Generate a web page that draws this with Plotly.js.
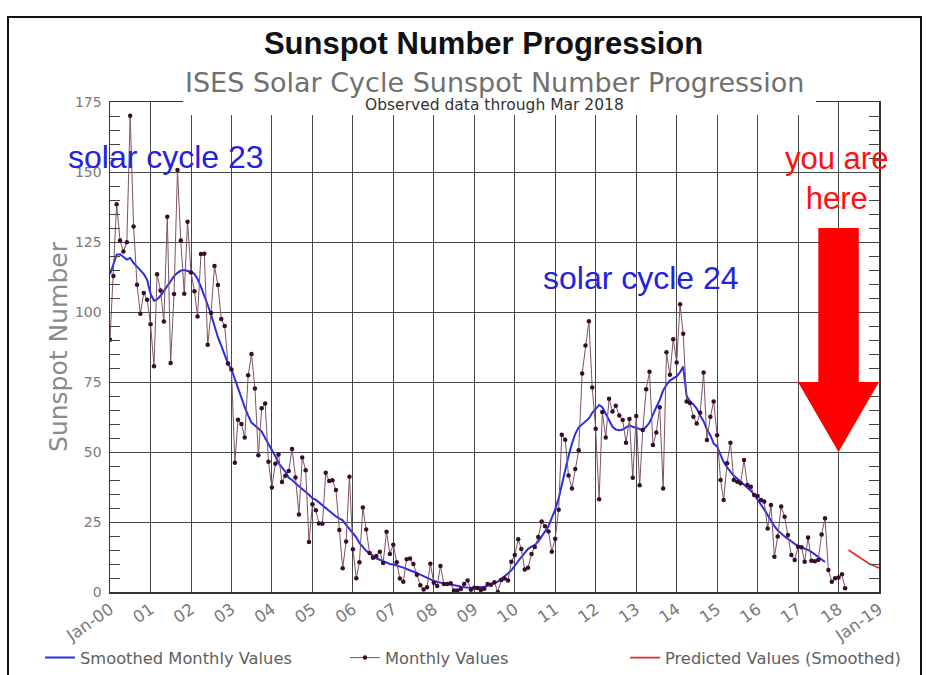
<!DOCTYPE html>
<html>
<head>
<meta charset="utf-8">
<script src="https://cdn.plot.ly/plotly-3.0.1.min.js"></script>
<style>html,body{margin:0;padding:0;background:#fff;}#chart{width:927px;height:675px;}</style>
</head>
<body>
<div id="chart"></div>
<script>
// Monthly sunspot numbers, Jan 2000 .. Mar 2018
const monthlyStart = [2000, 1];
const monthlyValues = [
  90.1, 112.9, 138.5, 125.5, 121.6, 124.9, 170.1, 130.5, 109.7, 99.4, 106.8, 104.4,
  95.6, 80.6, 113.5, 107.7, 96.6, 134.0, 81.8, 106.4, 150.7, 125.5, 106.5, 132.2,
  114.1, 107.4, 98.4, 120.7, 120.8, 88.3, 99.6, 116.4, 109.6, 97.5, 95.0, 81.6,
  79.5, 46.2, 61.5, 60.0, 55.2, 77.4, 85.0, 72.7, 48.8, 65.6, 67.3, 46.5,
  37.3, 45.8, 49.1, 39.3, 41.5, 43.2, 51.1, 40.9, 27.7, 48.0, 43.5, 17.9,
  31.3, 29.2, 24.5, 24.4, 42.6, 39.6, 39.9, 36.4, 22.1, 8.5, 18.0, 41.2,
  15.3, 4.9, 10.6, 30.2, 22.3, 13.9, 12.2, 12.9, 14.4, 10.4, 21.5, 13.6,
  16.9, 10.6, 4.8, 3.7, 11.7, 12.0, 10.0, 6.2, 2.4, 0.9, 1.7, 10.1,
  3.3, 2.1, 9.3, 2.9, 2.9, 3.1, 0.5, 0.5, 1.1, 2.9, 4.1, 0.8,
  1.5, 1.4, 0.7, 1.2, 2.9, 2.6, 3.5, 0.0, 4.3, 4.8, 4.1, 10.8,
  13.2, 18.8, 15.4, 8.0, 8.7, 13.6, 16.1, 19.6, 25.2, 23.5, 21.6, 14.4,
  19.0, 29.4, 56.2, 54.4, 41.6, 37.0, 43.9, 50.6, 78.0, 88.0, 96.7, 73.0,
  58.3, 33.1, 64.3, 55.2, 69.0, 64.5, 66.5, 63.0, 61.4, 53.3, 61.8, 40.8,
  62.9, 38.1, 57.9, 72.4, 78.7, 52.5, 57.0, 66.0, 37.0, 85.6, 77.6, 90.3,
  82.0, 102.8, 92.2, 68.0, 67.5, 62.6, 60.2, 64.0, 78.4, 54.3, 62.6, 68.0,
  56.0, 40.0, 32.9, 46.0, 53.3, 40.0, 39.4, 38.8, 47.1, 38.2, 37.6, 34.6,
  34.3, 32.9, 32.3, 22.7, 31.1, 12.6, 19.8, 30.5, 26.9, 20.4, 13.2, 11.4,
  16.2, 16.0, 10.8, 19.5, 11.2, 11.0, 11.4, 20.5, 26.3, 7.9, 3.7, 4.9,
  5.2, 6.3, 1.3
];

// Smoothed monthly values, Jan 2000 .. Sep 2017
const smoothedStart = [2000, 1];
const smoothedValues = [
  113.5, 117.5, 120.5, 120.6, 119.8, 118.7, 119.3, 117.5, 116.2, 114.8, 113.5, 111.5,
  106.5, 104.0, 104.5, 105.8, 107.5, 109.5, 111.3, 112.8, 114.0, 114.8, 115.0, 114.6,
  114.3, 113.6, 111.8, 109.0, 106.0, 102.5, 99.0, 94.5, 91.0, 88.0, 84.5, 81.5,
  79.5, 76.0, 72.5, 69.0, 66.0, 63.0, 60.5, 59.5, 58.5, 57.3, 55.0, 53.0,
  51.0, 48.5, 46.0, 44.5, 43.0, 40.8, 40.0, 38.8, 37.8, 36.8, 35.8, 34.7,
  33.5, 32.9, 32.0, 31.0, 29.8, 28.8, 27.9, 27.0, 26.3, 25.6, 24.0, 22.5,
  21.0, 19.5, 17.5, 16.0, 14.7, 13.8, 13.0, 12.0, 11.5, 11.0, 10.5, 10.0,
  9.8, 9.5, 9.1, 8.7, 8.2, 7.8, 7.3, 6.8, 6.2, 5.6, 5.0, 4.5,
  4.0, 3.6, 3.3, 3.1, 2.9, 2.7, 2.4, 2.1, 1.9, 1.7, 1.6, 1.5,
  1.5, 1.6, 1.7, 1.9, 2.2, 2.6, 3.1, 3.7, 4.6, 5.6, 6.6, 7.7,
  9.5, 11.0, 12.5, 14.0, 15.4, 16.2, 16.8, 18.0, 19.8, 21.5, 23.5, 26.5,
  29.5, 33.5, 38.5, 43.5, 48.5, 53.0, 56.5, 58.8, 59.8, 60.8, 62.0, 64.0,
  65.5, 66.8, 66.0, 63.5, 61.0, 59.0, 58.0, 57.8, 58.0, 58.7, 59.5, 59.0,
  58.5, 58.2, 57.9, 59.0, 60.5, 63.5, 66.0, 68.5, 72.0, 74.0, 75.5, 76.3,
  77.0, 78.5, 80.5, 70.0, 68.0, 67.0, 65.5, 63.0, 61.0, 58.0, 56.0, 53.0,
  52.0, 49.0, 46.5, 44.5, 43.0, 41.5, 40.5, 39.5, 38.5, 37.5, 36.2, 34.8,
  33.0, 31.5, 29.5, 27.5, 25.5, 23.5, 22.0, 20.8, 19.8, 19.0, 18.0, 17.2,
  16.4, 16.0, 15.6, 15.0, 14.3, 13.4, 12.4, 11.5, 10.7
];

// Predicted smoothed values, Apr 2018 .. Jan 2019
const predictedStart = [2018, 4];
const predictedValues = [15.0, 14.2, 13.4, 12.4, 11.6, 10.8, 10.2, 9.6, 9.1, 8.6];

// Axis ticks
const tickYears = [2000,2001,2002,2003,2004,2005,2006,2007,2008,2009,2010,2011,2012,2013,2014,2015,2016,2017,2018,2019];
const tickLabels = ['Jan-00','01','02','03','04','05','06','07','08','09','10','11','12','13','14','15','16','17','18','Jan-19'];
const yTicks = [0, 25, 50, 75, 100, 125, 150, 175];

function monthDates(start, n) {
  const out = [];
  let y = start[0], m = start[1];
  for (let i = 0; i < n; i++) {
    out.push(y + '-' + String(m).padStart(2, '0') + '-01');
    m++; if (m > 12) { m = 1; y++; }
  }
  return out;
}

const traces = [
  {
    x: monthDates(smoothedStart, smoothedValues.length), y: smoothedValues,
    type: 'scatter', mode: 'lines', name: 'Smoothed Monthly Values', legend: 'legend',
    line: {color: '#2d2de6', width: 2}
  },
  {
    x: monthDates(monthlyStart, monthlyValues.length), y: monthlyValues,
    type: 'scatter', mode: 'lines+markers', name: 'Monthly Values', legend: 'legend2',
    line: {color: '#7a5468', width: 1},
    marker: {color: '#3a0d2c', size: 4.5, symbol: 'circle'}
  },
  {
    x: monthDates(predictedStart, predictedValues.length), y: predictedValues,
    type: 'scatter', mode: 'lines', name: 'Predicted Values (Smoothed)', legend: 'legend3',
    line: {color: '#e8262a', width: 1.6}
  }
];

const legendFont = {family: 'DejaVu Sans', size: 16.3, color: '#606060'};
function legendAt(px) {
  return {
    orientation: 'h', xref: 'container', x: px / 927, xanchor: 'left',
    yref: 'container', y: 1 - 658 / 675, yanchor: 'middle',
    font: legendFont, bgcolor: 'rgba(0,0,0,0)', borderwidth: 0
  };
}

const layout = {
  width: 927, height: 675,
  margin: {l: 110, r: 48, t: 102, b: 83},
  paper_bgcolor: '#ffffff', plot_bgcolor: '#ffffff',
  showlegend: true,
  title: {
    text: '<b>Sunspot Number Progression</b>',
    font: {family: 'Liberation Sans', size: 31, color: '#111'},
    xref: 'container', x: 0.5216, xanchor: 'center',
    yref: 'container', y: 0.936, yanchor: 'middle'
  },
  xaxis: {
    type: 'date',
    range: ['2000-01-01', '2019-01-01'],
    tickvals: tickYears.map(y => y + '-01-01'),
    ticktext: tickLabels,
    tickangle: -35,
    tickfont: {family: 'DejaVu Sans', size: 16.5, color: '#7a7a7a'},
    showgrid: true, gridcolor: '#474747', gridwidth: 1,
    showline: true, linecolor: '#333', linewidth: 1.5, mirror: true,
    ticks: '', zeroline: false,
    fixedrange: true
  },
  yaxis: {
    range: [0, 175],
    tickvals: yTicks,
    tickfont: {family: 'DejaVu Sans', size: 14, color: '#7a7a7a'},
    showgrid: true, gridcolor: '#474747', gridwidth: 1,
    showline: true, linecolor: '#333', linewidth: 1.5, mirror: 'ticks',
    ticks: 'inside', ticklen: 10, tickcolor: '#444',
    minor: {dtick: 5, ticks: 'inside', ticklen: 10, tickcolor: '#444', showgrid: false},
    ticklabelstandoff: 4,
    zeroline: false,
    title: {text: 'Sunspot Number', font: {family: 'DejaVu Sans', size: 25, color: '#8a8a8a'}, standoff: 0},
    fixedrange: true
  },
  legend: legendAt(40),
  legend2: legendAt(345),
  legend3: legendAt(625),
  annotations: [
    {text: 'ISES Solar Cycle Sunspot Number Progression', xref: 'paper', yref: 'paper',
     x: 0.5, y: 1.0408, xanchor: 'center', yanchor: 'middle', showarrow: false,
     font: {family: 'DejaVu Sans', size: 27, color: '#707070'}},
    {text: 'Observed data through Mar 2018', xref: 'paper', yref: 'paper',
     x: 0.5, y: 0.9939, xanchor: 'center', yanchor: 'middle', showarrow: false,
     font: {family: 'DejaVu Sans', size: 15.5, color: '#333'}},
    {text: 'solar cycle 23', xref: 'paper', yref: 'paper',
     x: (166 - 110) / 769, y: (592 - 157) / 490, xanchor: 'center', yanchor: 'middle', showarrow: false,
     font: {family: 'Liberation Sans', size: 32, color: '#2222e0'}},
    {text: 'solar cycle 24', xref: 'paper', yref: 'paper',
     x: (641 - 110) / 769, y: (592 - 278) / 490, xanchor: 'center', yanchor: 'middle', showarrow: false,
     font: {family: 'Liberation Sans', size: 32, color: '#2222e0'}},
    {text: 'you are<br>here', xref: 'paper', yref: 'paper',
     x: (836 - 110) / 769, y: (592 - 178) / 490, xanchor: 'center', yanchor: 'middle', showarrow: false,
     font: {family: 'Liberation Sans', size: 31, color: '#ff1010'}}
  ],
  shapes: [
    // white box behind the titles, hiding the top of the grid
    {type: 'rect', xref: 'paper', yref: 'paper', x0: (183 - 110) / 769, x1: (816 - 110) / 769,
     y0: (592 - 115) / 490, y1: 1.2, fillcolor: '#ffffff', line: {width: 0}, layer: 'above'},
    // big red arrow
    {type: 'path', xref: 'paper', yref: 'paper', layer: 'above',
     path: 'M 0.9211,0.7429 L 0.9737,0.7429 L 0.9737,0.4286 L 1.0,0.4286 L 0.9474,0.2857 L 0.8947,0.4286 L 0.9211,0.4286 Z',
     fillcolor: '#ff0000', line: {width: 0}},
    // outer picture frame
    {type: 'rect', xref: 'paper', yref: 'paper', x0: (8 - 110) / 769, x1: (921 - 110) / 769,
     y0: -0.3, y1: (592 - 17) / 490, line: {color: '#111', width: 2}, fillcolor: 'rgba(0,0,0,0)', layer: 'above'}
  ]
};

Plotly.newPlot('chart', traces, layout, {displayModeBar: false, staticPlot: true});
</script>
</body>
</html>
